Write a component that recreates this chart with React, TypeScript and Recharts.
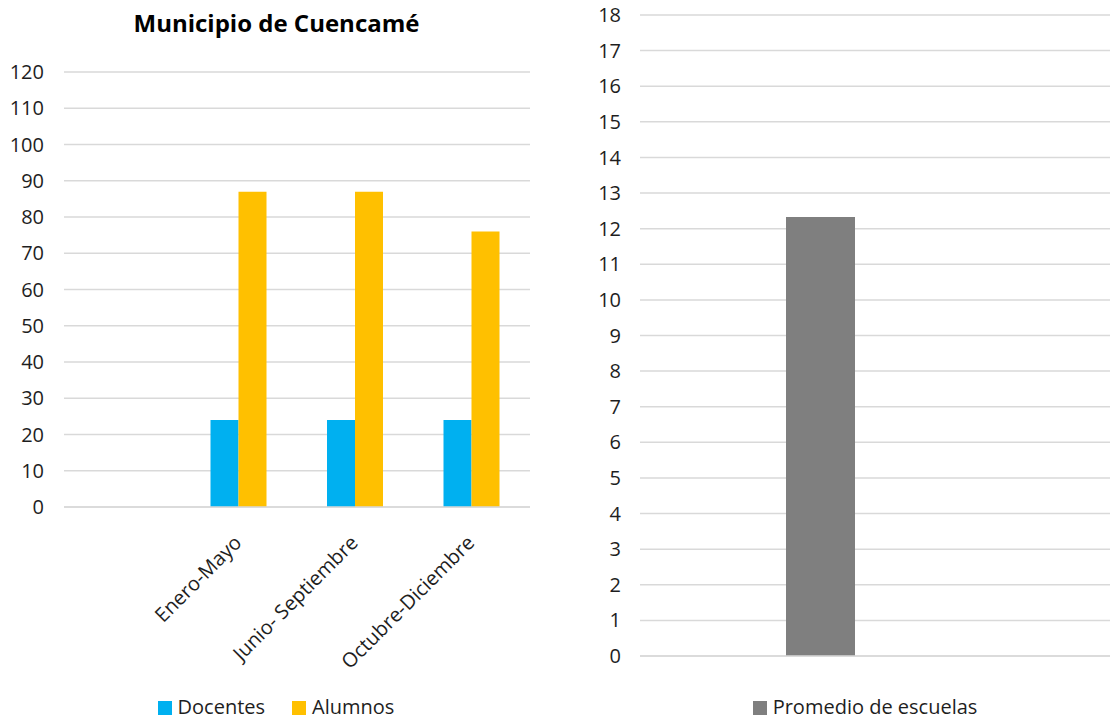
import React from "react";
import { BarChart, Bar, XAxis, YAxis, CartesianGrid, Legend } from "recharts";

const categories = ["", "Enero-Mayo", "Junio- Septiembre", "Octubre-Diciembre"];
const docentes = [null, 24, 24, 24];
const alumnos = [null, 87, 87, 76];
const leftTicks = [0, 10, 20, 30, 40, 50, 60, 70, 80, 90, 100, 110, 120];
const leftSeries = ["Docentes", "Alumnos"];

const rightCategories = ["Promedio de escuelas"];
const promedio = [12.33];
const rightTicks = [0, 1, 2, 3, 4, 5, 6, 7, 8, 9, 10, 11, 12, 13, 14, 15, 16, 17, 18];
const rightSeries = ["Promedio de escuelas"];

const leftData = categories.map((c, i) => ({ name: c, Docentes: docentes[i], Alumnos: alumnos[i] }));
const rightData = rightCategories.map((c, i) => ({ name: c, "Promedio de escuelas": promedio[i] }));

const FONT = "'Open Sans', 'Noto Sans', sans-serif";
const TEXT = "#1e1e1e";
const GRID = "#d9d9d9";

const AngledTick = (props: any) => {
  const { x, y, payload } = props;
  const ax = x + 4;
  const ay = y + 29;
  return (
    <text
      x={ax}
      y={ay}
      transform={`rotate(-45, ${ax}, ${ay})`}
      textAnchor="end"
      fill={TEXT}
      fontSize={20}
      fontFamily={FONT}
    >
      {payload.value}
    </text>
  );
};

const makeLegend = (order: string[], shift: number) => (props: any) => {
  const items = [...(props.payload || [])].sort(
    (a: any, b: any) => order.indexOf(a.value) - order.indexOf(b.value)
  );
  return (
    <div
      style={{
        display: "flex",
        justifyContent: "center",
        alignItems: "center",
        height: 26,
        paddingLeft: shift,
        fontFamily: FONT,
        fontSize: 20,
        color: TEXT,
        gap: 27,
      }}
    >
      {items.map((p: any) => (
        <div key={p.value} style={{ display: "flex", alignItems: "center" }}>
          <span style={{ display: "inline-block", width: 14, height: 14, background: p.color, marginRight: 6, marginTop: 3 }} />
          <span>{p.value}</span>
        </div>
      ))}
    </div>
  );
};

const LeftLegend = makeLegend(leftSeries, 22);
const RightLegend = makeLegend(rightSeries, 60);

export default function App() {
  return (
    <div style={{ position: "absolute", left: 0, top: 0, width: 1110, height: 719, overflow: "hidden", background: "#fff" }}>
      <div
        style={{
          position: "absolute",
          left: 0,
          top: 6,
          width: 553,
          textAlign: "center",
          fontFamily: FONT,
          fontWeight: 700,
          fontSize: 24,
          color: "#000",
        }}
      >
        Municipio de Cuencamé
      </div>
      <div style={{ position: "absolute", left: 0, top: 0 }}>
        <BarChart
          width={553}
          height={719}
          data={leftData}
          margin={{ top: 72, right: 23, bottom: 0, left: 0 }}
          barGap={0}
          barSize={28}
        >
          <CartesianGrid vertical={false} stroke={GRID} strokeWidth={1.5} />
          <XAxis
            dataKey="name"
            axisLine={{ stroke: GRID, strokeWidth: 1.5 }}
            tickLine={false}
            interval={0}
            height={186}
            tick={<AngledTick />}
          />
          <YAxis
            domain={[0, 120]}
            ticks={leftTicks}
            interval={0}
            width={64}
            axisLine={false}
            tickLine={false}
            tickSize={0}
            tickMargin={20}
            tick={{ fill: TEXT, fontSize: 20, fontFamily: FONT }}
          />
          <Legend verticalAlign="bottom" align="center" content={<LeftLegend />} />
          <Bar dataKey="Docentes" fill="#00b0f0" isAnimationActive={false} />
          <Bar dataKey="Alumnos" fill="#ffc000" isAnimationActive={false} />
        </BarChart>
      </div>
      <div style={{ position: "absolute", left: 560, top: 0 }}>
        <BarChart
          width={610}
          height={719}
          data={rightData}
          margin={{ top: 15, right: 60, bottom: 0, left: 0 }}
          barSize={69}
        >
          <CartesianGrid vertical={false} stroke={GRID} strokeWidth={1.5} />
          <XAxis
            dataKey="name"
            axisLine={{ stroke: GRID, strokeWidth: 1.5 }}
            tickLine={false}
            tick={false}
            height={37}
            padding={{ left: 0, right: 109 }}
          />
          <YAxis
            domain={[0, 18]}
            ticks={rightTicks}
            interval={0}
            width={80}
            axisLine={false}
            tickLine={false}
            tickSize={0}
            tickMargin={19}
            tick={{ fill: TEXT, fontSize: 20, fontFamily: FONT }}
          />
          <Legend verticalAlign="bottom" align="center" content={<RightLegend />} />
          <Bar dataKey="Promedio de escuelas" fill="#7f7f7f" isAnimationActive={false} />
        </BarChart>
      </div>
    </div>
  );
}
